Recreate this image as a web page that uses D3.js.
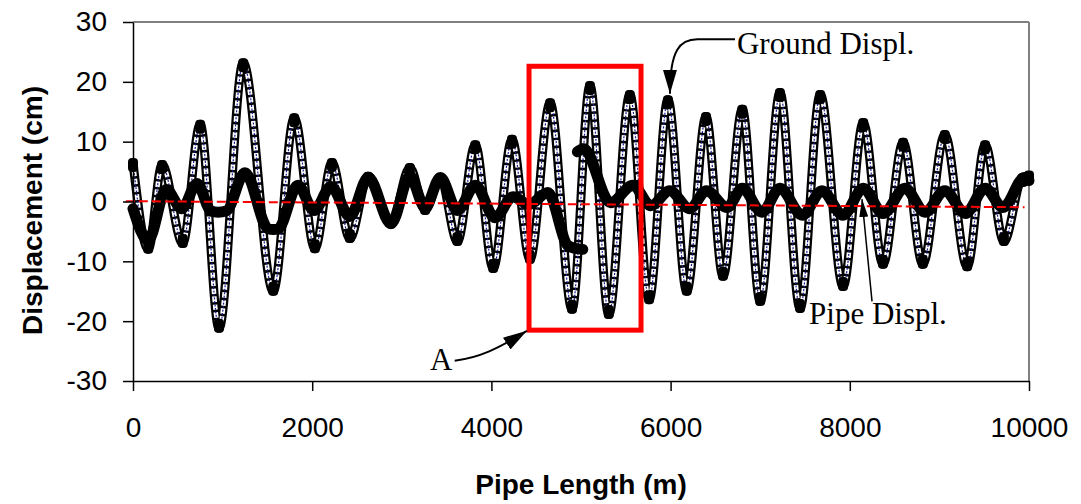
<!DOCTYPE html>
<html>
<head>
<meta charset="utf-8">
<script src="https://cdn.jsdelivr.net/npm/d3@7"></script>
<style>
  html, body { margin: 0; padding: 0; background: #fff; }
  svg { display: block; }
</style>
</head>
<body>
<svg id="chart" width="1081" height="504"></svg>
<script>
// DATA (turning points of each series)
const groundX = [0, 170, 325, 555, 750, 960, 1230, 1565, 1800, 2030, 2220, 2420, 2625, 2880, 3090, 3260, 3430, 3620, 3820, 4020, 4230, 4430, 4655, 4900, 5100, 5310, 5545, 5760, 5970, 6180, 6395, 6585, 6800, 7000, 7220, 7445, 7670, 7925, 8150, 8370, 8595, 8815, 9060, 9310, 9510, 9720, 9930, 10000];
const groundY = [6.5, -8.0, 6.2, -7.0, 12.9, -21.2, 23.2, -15.0, 14.0, -7.9, 6.5, -6.2, 4.2, -3.8, 5.7, -1.5, 4.0, -6.7, 9.5, -11.2, 10.4, -9.7, 16.5, -18.0, 19.4, -18.9, 17.9, -16.4, 17.0, -15.0, 14.2, -12.5, 15.4, -16.7, 18.2, -17.9, 17.9, -14.2, 13.2, -10.5, 9.9, -10.5, 11.2, -10.9, 9.5, -6.7, 4.0, 3.6];

// pipe displacement is drawn in two pieces (it jumps near 5000 m)
const pipeX1 = [0, 170, 370, 545, 715, 870, 950, 1040, 1250, 1510, 1565, 1620, 1840, 2020, 2210, 2420, 2625, 2880, 3090, 3260, 3430, 3620, 3820, 4040, 4240, 4420, 4630, 4850, 4930, 5020];
const pipeY1 = [-1.2, -6.5, 2.0, -1.2, 3.0, -1.6, -1.8, -1.6, 4.8, -4.6, -4.7, -4.6, 2.7, -1.5, 2.5, -2.5, 4.0, -3.7, 4.2, -1.0, 4.0, -1.5, 2.7, -2.7, 0.8, -0.5, 1.5, -7.3, -7.8, -8.0];
const pipeX2 = [4960, 5030, 5330, 5580, 5780, 5990, 6215, 6400, 6630, 6800, 7020, 7220, 7470, 7690, 7925, 8150, 8370, 8615, 8840, 9060, 9290, 9510, 9710, 9950, 10000];
const pipeY2 = [8.3, 8.8, -0.2, 2.7, -0.7, 1.8, -1.2, 1.8, -1.0, 2.2, -1.8, 2.2, -2.3, 1.8, -2.3, 2.2, -2.0, 2.2, -1.8, 1.8, -2.0, 2.2, -1.0, 4.0, 3.5];

const trendX = [-80, 9950];
const trendY = [0.05, -0.95];

const xTicks = [0, 2000, 4000, 6000, 8000, 10000];
const yTicks = [-30, -20, -10, 0, 10, 20, 30];

// zoomed region "A" in data units
const boxX = [4420, 5670];
const boxY = [-21.5, 22.6];

// CANVAS SETUP
const svg = d3.select("#chart");
const margin = { top: 22, right: 52, bottom: 123, left: 133 },
  width = +svg.attr("width") - margin.left - margin.right,
  height = +svg.attr("height") - margin.top - margin.bottom;

const x = d3.scaleLinear().domain([0, 10000]).range([margin.left, margin.left + width]);
const y = d3.scaleLinear().domain([-30, 30]).range([margin.top + height, margin.top]);

const toPts = (xs, ys) => xs.map((d, i) => ({ x: d, y: ys[i] }));
const ground = toPts(groundX, groundY);
const pipe1 = toPts(pipeX1, pipeY1);
const pipe2 = toPts(pipeX2, pipeY2);
const trend = toPts(trendX, trendY);

const line = d3.line().x((d) => x(d.x)).y((d) => y(d.y)).curve(d3.curveMonotoneX);

// arrowheads
const defs = svg.append("defs");
function arrowHead(id, len, wid) {
  defs.append("marker")
    .attr("id", id)
    .attr("markerUnits", "userSpaceOnUse")
    .attr("viewBox", `0 0 ${len} ${wid}`)
    .attr("refX", len).attr("refY", wid / 2)
    .attr("markerWidth", len).attr("markerHeight", wid)
    .attr("orient", "auto")
    .append("path")
    .attr("d", `M0,0L${len},${wid / 2}L0,${wid}Z`)
    .attr("fill", "#000");
}
arrowHead("headBig", 24, 14);
arrowHead("headSmall", 18, 9);

// FRAME
svg.append("line")
  .attr("x1", x(0)).attr("x2", x(10000)).attr("y1", y(30)).attr("y2", y(30))
  .attr("stroke", "#808080").attr("stroke-width", 2);
svg.append("line")
  .attr("x1", x(10000)).attr("x2", x(10000)).attr("y1", y(30)).attr("y2", y(-30))
  .attr("stroke", "#808080").attr("stroke-width", 2);

// GROUND (chain of open squares with a navy line through them)
const gg = svg.append("g");
gg.append("path").datum(ground).attr("d", line)
  .attr("fill", "none").attr("stroke", "#000").attr("stroke-width", 9)
  .attr("stroke-linejoin", "round");
gg.append("path").datum(ground).attr("d", line)
  .attr("fill", "none").attr("stroke", "#fff").attr("stroke-width", 4.5)
  .attr("stroke-dasharray", "5.5,2.5");
gg.append("path").datum(ground).attr("d", line)
  .attr("fill", "none").attr("stroke", "#1c1c8c").attr("stroke-width", 1.2)
  .attr("stroke-dasharray", "2,1.5");

// markers pile up into solid blobs at the turning points
gg.selectAll("rect.blob")
  .data(ground)
  .join("rect")
  .attr("class", "blob")
  .attr("x", (d) => x(d.x) - 5)
  .attr("y", (d, i) => {
    const up = i === 0 ? d.y > ground[1].y : d.y > ground[i - 1].y;
    return up ? y(d.y) - 4.5 : y(d.y) - 9.5;
  })
  .attr("width", 10)
  .attr("height", 14)
  .attr("rx", 4)
  .attr("fill", "#000");

// PIPE (thick black filled markers)
const gp = svg.append("g");
[pipe1, pipe2].forEach((seg) => {
  gp.append("path")
    .datum(seg)
    .attr("d", line)
    .attr("fill", "none")
    .attr("stroke", "#000")
    .attr("stroke-width", 11)
    .attr("stroke-linejoin", "round")
    .attr("stroke-linecap", "round");
});

// red dashed reference line
svg.append("path")
  .datum(trend)
  .attr("d", d3.line().x((d) => x(d.x)).y((d) => y(d.y)))
  .attr("stroke", "#ff0000")
  .attr("stroke-width", 2)
  .attr("stroke-dasharray", "9,4")
  .attr("fill", "none");

// box A
svg.append("rect")
  .attr("x", x(boxX[0]))
  .attr("y", y(boxY[1]))
  .attr("width", x(boxX[1]) - x(boxX[0]))
  .attr("height", y(boxY[0]) - y(boxY[1]))
  .attr("fill", "none")
  .attr("stroke", "#ff0000")
  .attr("stroke-width", 5);

// AXES
const fmt = (d) => String(d);
const gx = svg.append("g")
  .attr("transform", `translate(0,${y(-30)})`)
  .call(d3.axisBottom(x).tickValues(xTicks).tickFormat(fmt).tickSize(10).tickSizeOuter(0).tickPadding(26));
const gy = svg.append("g")
  .attr("transform", `translate(${x(0)},0)`)
  .call(d3.axisLeft(y).tickValues(yTicks).tickFormat(fmt).tickSize(10).tickSizeOuter(0).tickPadding(16));

[gx, gy].forEach((g) => {
  g.select(".domain").attr("stroke", "#000").attr("stroke-width", 1.5);
  g.selectAll(".tick line").attr("stroke", "#000").attr("stroke-width", 1.5);
  g.selectAll(".tick text")
    .attr("fill", "#000")
    .style("font-family", "'Liberation Sans', Arial, sans-serif")
    .style("font-size", "28px");
});

svg.append("text")
  .attr("x", (x(0) + x(10000)) / 2)
  .attr("y", 494)
  .attr("text-anchor", "middle")
  .style("font-family", "'Liberation Sans', Arial, sans-serif")
  .style("font-weight", "bold")
  .style("font-size", "28px")
  .text("Pipe Length (m)");

svg.append("text")
  .attr("transform", `translate(42,${(y(30) + y(-30)) / 2 + 9}) rotate(-90)`)
  .attr("text-anchor", "middle")
  .style("font-family", "'Liberation Sans', Arial, sans-serif")
  .style("font-weight", "bold")
  .style("font-size", "28px")
  .text("Displacement (cm)");

// ANNOTATIONS
const serif = "'Liberation Serif', 'Times New Roman', serif";
const ga = svg.append("g");

ga.append("text")
  .attr("x", x(6741)).attr("y", y(24.7))
  .style("font-family", serif).style("font-size", "31px")
  .text("Ground Displ.");
ga.append("path")
  .attr("d", `M${x(6741) - 2},${y(27.1)} L${x(6300)},${y(27.1)} C${x(6100)},${y(27.1)} ${x(5993)},${y(25.3)} ${x(5993)},${y(18.0)}`)
  .attr("fill", "none").attr("stroke", "#000").attr("stroke-width", 2)
  .attr("marker-end", "url(#headBig)");

ga.append("text")
  .attr("x", x(7545)).attr("y", y(-20.4))
  .style("font-family", serif).style("font-size", "31px")
  .text("Pipe Displ.");
ga.append("path")
  .attr("d", `M${x(8248)},${y(-16.7)} L${x(8136)},${y(0.4)}`)
  .attr("fill", "none").attr("stroke", "#000").attr("stroke-width", 1.5)
  .attr("marker-end", "url(#headSmall)");

ga.append("text")
  .attr("x", x(3315)).attr("y", y(-28.2))
  .style("font-family", serif).style("font-size", "31px")
  .text("A");
ga.append("path")
  .attr("d", `M${x(3590)},${y(-26.6)} C${x(3860)},${y(-26.1)} ${x(4080)},${y(-24.6)} ${x(4397)},${y(-21.6)}`)
  .attr("fill", "none").attr("stroke", "#000").attr("stroke-width", 2)
  .attr("marker-end", "url(#headBig)");
</script>
</body>
</html>
